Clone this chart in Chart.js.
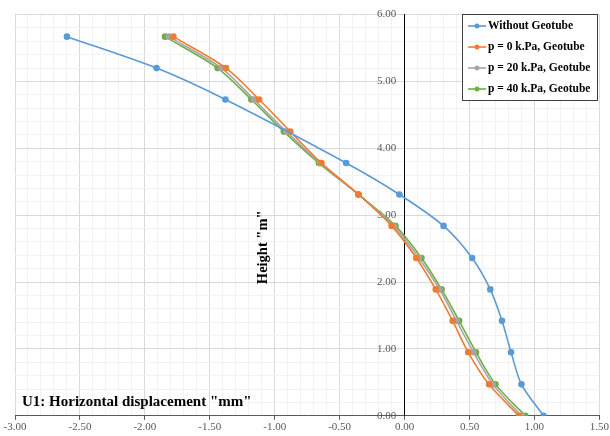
<!DOCTYPE html>
<html>
<head>
<meta charset="utf-8">
<script src="https://cdn.jsdelivr.net/npm/chart.js@4.4.1/dist/chart.umd.min.js"></script>
<style>
  body { margin: 0; background: #fff; }
  canvas { display: block; }
</style>
</head>
<body>
<canvas id="chart" width="610" height="436"></canvas>
<script>
// heights (m) for each series
var heightsNoGeo = [0, 0.47, 0.95, 1.42, 1.89, 2.36, 2.84, 3.31, 3.78, 4.73, 5.20, 5.67];
var heightsGeo = [0, 0.47, 0.95, 1.42, 1.89, 2.36, 2.84, 3.31, 3.78, 4.25, 4.73, 5.20, 5.67];

// horizontal displacement (mm)
var withoutGeotube = [1.07, 0.90, 0.82, 0.75, 0.66, 0.52, 0.30, -0.04, -0.45, -1.38, -1.91, -2.60];
var p0Geotube = [0.88, 0.65, 0.49, 0.37, 0.24, 0.09, -0.10, -0.355, -0.64, -0.88, -1.12, -1.375, -1.78];
var p20Geotube = [0.90, 0.68, 0.53, 0.40, 0.27, 0.11, -0.085, -0.355, -0.65, -0.91, -1.16, -1.41, -1.815];
var p40Geotube = [0.93, 0.70, 0.55, 0.42, 0.285, 0.13, -0.07, -0.355, -0.66, -0.93, -1.18, -1.44, -1.845];

var seriesNames = ["Without Geotube", "p = 0 k.Pa, Geotube", "p = 20 k.Pa, Geotube", "p = 40 k.Pa, Geotube"];
var seriesColors = ["#5B9BD5", "#ED7D31", "#A5A5A5", "#70AD47"];

var xTitle = 'U1: Horizontal displacement "mm"';
var yTitle = 'Height "m"';

function pairs(xs, ys) {
  var out = [];
  for (var i = 0; i < xs.length; i++) out.push({x: xs[i], y: ys[i]});
  return out;
}

function makeSet(i, xs, ys) {
  return {
    label: seriesNames[i],
    data: pairs(xs, ys),
    showLine: true,
    borderColor: seriesColors[i],
    backgroundColor: seriesColors[i],
    borderWidth: 1.6,
    pointRadius: 2.5,
    pointHoverRadius: 2.5,
    tension: 0.3
  };
}

function isMajorX(v) { return Math.abs(Math.round(v * 10)) % 5 === 0; }
function isMajorY(v) { return Math.abs(Math.round(v * 10)) % 10 === 0; }

var extras = {
  id: 'extras',
  afterDraw: function(chart) {
    var c = chart.ctx;
    var xs = chart.scales.x, ys = chart.scales.y;
    c.save();
    // axis titles
    c.fillStyle = '#000';
    c.font = 'bold 15px "Liberation Serif"';
    c.textBaseline = 'middle';
    c.textAlign = 'left';
    c.fillText(xTitle, 22, 402);
    c.save();
    c.font = 'bold 14.5px "Liberation Serif"';
    c.translate(xs.getPixelForValue(-1.09), ys.getPixelForValue(2.52));
    c.rotate(-Math.PI / 2);
    c.textAlign = 'center';
    c.fillText(yTitle, 0, 0);
    c.restore();

    // legend box
    var bx = 462, by = 14, bw = 135, bh = 86;
    c.fillStyle = '#fff';
    c.fillRect(bx, by, bw, bh);
    c.strokeStyle = '#404040';
    c.lineWidth = 1;
    c.strokeRect(bx + 0.5, by + 0.5, bw, bh);
    c.font = 'bold 11.5px "Liberation Serif"';
    c.textAlign = 'left';
    for (var i = 0; i < seriesNames.length; i++) {
      var ly = 26 + i * 21;
      c.strokeStyle = seriesColors[i];
      c.lineWidth = 1.6;
      c.beginPath();
      c.moveTo(468, ly);
      c.lineTo(486, ly);
      c.stroke();
      c.fillStyle = seriesColors[i];
      c.beginPath();
      c.arc(477, ly, 2.5, 0, Math.PI * 2);
      c.fill();
      c.fillStyle = '#000';
      c.fillText(seriesNames[i], 488, ly);
    }
    c.restore();
  }
};

new Chart(document.getElementById('chart'), {
  type: 'scatter',
  data: {
    datasets: [
      makeSet(0, withoutGeotube, heightsNoGeo),
      makeSet(1, p0Geotube, heightsGeo),
      makeSet(2, p20Geotube, heightsGeo),
      makeSet(3, p40Geotube, heightsGeo)
    ]
  },
  options: {
    responsive: false,
    animation: false,
    devicePixelRatio: 1,
    layout: {autoPadding: false, padding: {top: 12, left: 15, right: 8, bottom: 1}},
    plugins: {
      legend: {display: false},
      tooltip: {enabled: false}
    },
    scales: {
      x: {
        type: 'linear',
        min: -3,
        max: 1.5,
        ticks: {
          stepSize: 0.1,
          autoSkip: false,
          maxRotation: 0,
          padding: 1,
          color: '#595959',
          font: {family: '"Liberation Serif"', size: 11},
          callback: function(v) { return isMajorX(v) ? v.toFixed(2) : ''; }
        },
        grid: {
          color: function(ctx) { return isMajorX(ctx.tick.value) ? '#D9D9D9' : '#F2F2F2'; },
          tickColor: function(ctx) { return isMajorX(ctx.tick.value) ? '#595959' : 'rgba(0,0,0,0)'; },
          tickLength: 4
        },
        border: {color: '#595959'}
      },
      y: {
        type: 'linear',
        axis: 'y',
        min: 0,
        max: 6,
        position: {x: 0},
        ticks: {
          stepSize: 0.2,
          autoSkip: false,
          padding: 8,
          color: '#595959',
          font: {family: '"Liberation Serif"', size: 11},
          // trailing spaces keep the right-aligned labels clear of the axis line
          callback: function(v) { return isMajorY(v) ? v.toFixed(2) + '   ' : ''; }
        },
        grid: {
          color: function(ctx) { return isMajorY(ctx.tick.value) ? '#D9D9D9' : '#F2F2F2'; },
          drawTicks: false
        },
        border: {color: '#000', width: 1}
      }
    }
  },
  plugins: [extras]
});
</script>
</body>
</html>
